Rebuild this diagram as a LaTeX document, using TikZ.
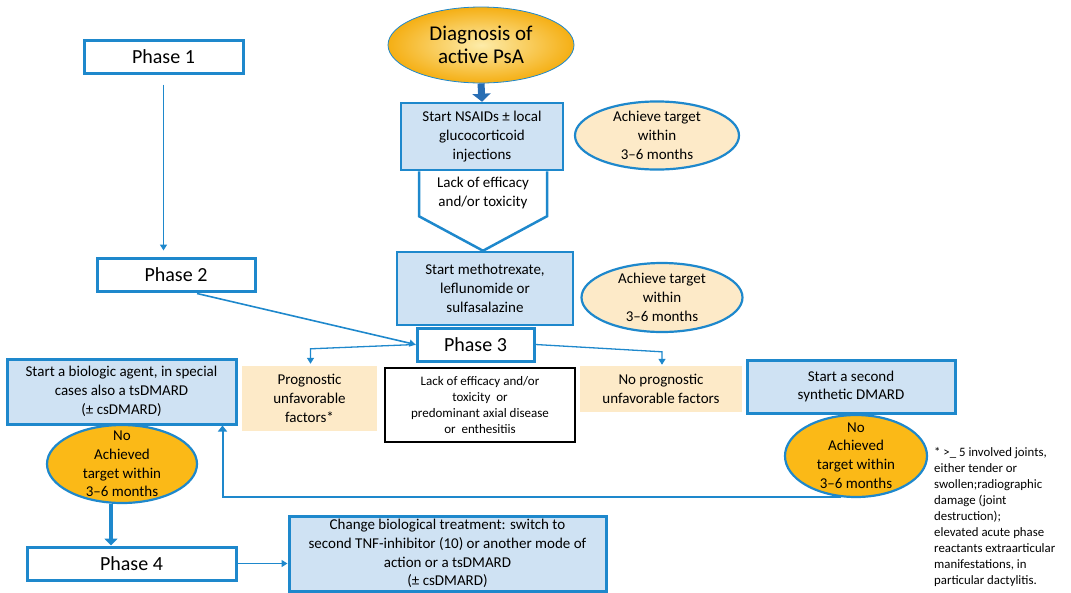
\documentclass[tikz,border=0pt]{standalone}
\usepackage{fontspec}
\setmainfont{Carlito}
\usetikzlibrary{arrows.meta,calc,shapes.geometric}
\definecolor{bblue}{RGB}{30,136,204}
\definecolor{dblue}{RGB}{40,110,180}
\definecolor{lblue}{RGB}{207,226,243}
\definecolor{peach}{RGB}{253,234,200}
\definecolor{gold}{RGB}{251,185,23}
\definecolor{orng}{RGB}{245,175,20}
\definecolor{lyel}{RGB}{253,236,170}
\tikzset{
  phase/.style={draw=bblue,line width=3pt,fill=white,inner sep=0pt,font=\fontsize{20}{24}\selectfont},
  bluebox/.style={draw=bblue,line width=2.5pt,fill=lblue,inner sep=0pt,align=center,font=\fontsize{15}{18.8}\selectfont},
  peachbox/.style={fill=peach,inner sep=0pt,align=center,font=\fontsize{15}{18.8}\selectfont},
  achell/.style={ellipse,draw=bblue,line width=2.2pt,fill=peach,inner sep=0pt,align=center,font=\fontsize{15}{18.8}\selectfont},
  goldell/.style={ellipse,draw=bblue,line width=2.2pt,fill=gold,inner sep=0pt},
  txt/.style={align=center,inner sep=0pt,font=\fontsize{15}{18.8}\selectfont},
  arr/.style={draw=bblue,line width=1.6pt,-{Triangle[width=7pt,length=6pt]}},
}
\begin{document}
\begin{tikzpicture}[x=1pt,y=-1pt]
\useasboundingbox (0,0) rectangle (1071,592);
% top column
\node[ellipse,minimum width=186pt,minimum height=76pt,inner sep=0pt,draw=bblue,line width=0.8pt,
  inner color=lyel,outer color=orng,align=center,font=\fontsize{21}{23}\selectfont] (diag) at (481,45) {Diagnosis of\\active PsA};
\node[bluebox,minimum width=162pt,minimum height=67pt] (nsaid) at (482,136.5) {Start NSAIDs ± local\\glucocorticoid\\injections};
\node[bluebox,minimum width=176pt,minimum height=73pt] (mtx) at (485,288.5) {Start methotrexate,\\leflunomide or\\sulfasalazine};
\draw[draw=bblue,line width=2.5pt,fill=white,line join=miter]
  ($(nsaid.south)+(-63,0)$) -- ($(nsaid.south)+(-63,45)$) -- ($(mtx.north)+(-2,0)$) -- ($(nsaid.south)+(65,45)$) -- ($(nsaid.south)+(65,0)$);
\node[txt] (lack1) at (483,193) {Lack of efficacy\\and/or toxicity};
\draw[dblue,line width=7pt,-{Triangle[width=18pt,length=8pt]}] (diag.south) -- (nsaid.north);
\node[achell,minimum width=164pt,minimum height=65pt] (ach1) at (657,135.5) {Achieve target\\within\\3--6 months};
\node[achell,minimum width=161pt,minimum height=69pt] (ach2) at (662,297.5) {Achieve target\\within\\3--6 months};
% phases
\node[phase,minimum width=159pt,minimum height=33pt] (p1) at (163.5,56.5) {Phase 1};
\node[phase,minimum width=158pt,minimum height=33pt] (p2) at (176,274.5) {Phase 2};
\node[phase,minimum width=117pt,minimum height=33pt] (p3) at (475.5,344.5) {Phase 3};
\node[phase,minimum width=209pt,minimum height=33pt] (p4) at (131.5,563.5) {Phase 4};
\draw[arr] ($(p1.south)+(0,10)$) -- ($(p1.south |- p2.north)+(0,-6)$);
\draw[arr] ($(p2.south)+(21,1)$) -- (p3.west);
% phase 3 row
\node[peachbox,minimum width=135pt,minimum height=65pt] (prog) at (309.5,398.5) {Prognostic\\unfavorable\\factors*};
\node[draw=black,line width=2pt,fill=white,inner sep=0pt,minimum width=190pt,minimum height=74pt,align=center,
  font=\fontsize{13}{16}\selectfont] (lack2) at (480,405) {Lack of efficacy and/or\\toxicity\ \ or\\predominant axial disease\\or\ \ enthesitiis};
\node[peachbox,minimum width=162pt,minimum height=46pt] (noprog) at (661,389) {No prognostic\\unfavorable factors};
\node[bluebox,minimum width=208pt,minimum height=53pt,line width=3pt] (dmard2) at (851,386.5) {Start a second\\synthetic DMARD};
\draw[arr,line width=1.3pt] (p3.west) -- ($(prog.north)+(1,-17)$) -- ($(prog.north)+(1,-2)$);
\draw[arr,line width=1.3pt] (p3.east) -- ($(noprog.north)+(1,-14)$) -- ($(noprog.north)+(1,-1)$);
% right ellipse
\node[goldell,minimum width=142pt,minimum height=82pt] (rell) at (856,456) {};
\node[txt] (rellt) at (856,455.5) {No\\Achieved\\target within\\3--6 months};
% left side
\node[bluebox,minimum width=229pt,minimum height=65pt,line width=3pt] (bio) at (121.5,391.5) {Start a biologic agent, in special\\cases also a tsDMARD\\(± csDMARD)};
\node[goldell,minimum width=150pt,minimum height=78pt] (lell) at (122,464) {};
\node[txt] (lellt) at (122,464) {No\\Achieved\\target within\\3--6 months};
\draw[draw=bblue,line width=2pt,-{Triangle[width=9pt,length=6pt]}] (rell.250) -| ($(bio.south east)+(-15,0)$);
\draw[draw=bblue,line width=4pt,-{Triangle[width=13pt,length=7pt]}] ($(lell.south)+(-11,0)$) -- ($(lell.south |- p4.north)+(-11,0)$);
\node[bluebox,minimum width=317pt,minimum height=75pt,line width=3pt] (chg) at (447.5,553.5) {Change biological treatment: switch to\\second TNF-inhibitor (10) or another mode of\\action or a tsDMARD\\(± csDMARD)};
\draw[arr] (p4.east) -- (p4.east -| chg.west);
% footnote
\node[anchor=north west,align=left,inner sep=0pt,font=\fontsize{12.8}{16}\selectfont] (note) at (934,447)
 {* >\_ 5 involved joints,\\either tender or\\swollen;radiographic\\damage (joint\\destruction);\\elevated acute phase\\reactants extraarticular\\manifestations, in\\particular dactylitis.};
\end{tikzpicture}
\end{document}
